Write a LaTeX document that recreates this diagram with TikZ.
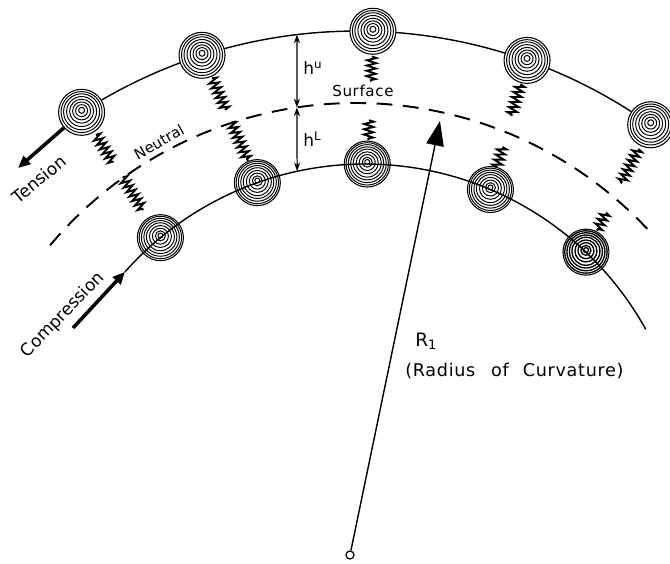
\documentclass[tikz,border=0pt]{standalone}
\usepackage{fontspec}
\setmainfont{DejaVu Sans}
\newfontfamily\widefont[LetterSpace=4]{DejaVu Sans}
\usetikzlibrary{positioning,arrows.meta,calc,decorations.pathmorphing}
\tikzset{
  grain/.style={circle,draw,line width=0.6pt,minimum size=0.92cm,inner sep=0pt},
  ring/.style={line width=0.55pt},
  surf/.style={line width=0.8pt},
  neutral/.style={line width=1.1pt,dash pattern=on 9pt off 6pt},
  spring/.style={line width=1.1pt,decorate,decoration={zigzag,segment length=3pt,amplitude=2.6pt}},
  dim/.style={{Stealth[length=5pt,width=3.5pt]}-{Stealth[length=5pt,width=3.5pt]},line width=0.7pt},
  push/.style={-{Triangle[length=7pt,width=6pt]},line width=2pt},
  curv/.style={-{Triangle[length=14pt,width=10pt]},line width=0.8pt},
  pivot/.style={circle,draw,line width=0.7pt,minimum size=0.16cm,inner sep=0pt},
  lbl/.style={inner sep=0pt,font=\fontsize{9.7}{12}\selectfont},
}
\begin{document}
\begin{tikzpicture}[x=0.02cm,y=0.02cm]
  \useasboundingbox (0,0) rectangle (670,-564);
  % centres of the three layers
  \coordinate (Ou) at (357,-538);
  \coordinate (On) at (356,-503);
  \coordinate (Ol) at (365,-485);

  % upper surface, neutral plane, lower surface
  \draw[surf] ($(Ou)+(122.9:507)$) arc[start angle=122.9,end angle=54.6,radius=507];
  \draw[neutral] ($(On)+(139.9:400)$) arc[start angle=139.9,end angle=42.4,radius=400];
  \coordinate (lstart) at ($(Ol)+(138.4:321)$);
  \draw[surf] (lstart) arc[start angle=138.4,end angle=29,radius=321];

  % particles
  \foreach \n/\a in {u1/122.9,u2/107.8,u3/88.2,u4/70.4,u5/54.6}
    \node[grain,fill=white] (\n) at ($(Ou)+(\a:507)$) {};
  \foreach \n/\a in {l1/129.6,l2/109.6,l3/89.6,l4/67.0,l5/46.5}
    \node[grain] (\n) at ($(Ol)+(\a:321)$) {};
  \foreach \n in {u1,u2,u3,u4,u5}
    \foreach \r in {3,6,9,12,15,18,20.5}
      \draw[ring] ($(\n)+(0,{0.1*(23-\r)})$) circle[radius=\r];
  \foreach \n/\w in {l1/0.55,l2/0.55,l3/0.55,l4/0.55,l5/0.75}
    \foreach \r in {2.5,5,8,11,14,16.5,19,21.2}
      \draw[ring,line width=\w pt] ($(\n)+(0,{0.1*(23-\r)})$) circle[radius=\r];

  % springs, broken at the neutral plane
  \foreach \u/\l/\a/\b/\c/\d in {u1/l1/0.18/0.40/0.52/0.78,u2/l2/0.18/0.43/0.53/0.83,
      u3/l3/0.19/0.38/0.67/0.82,u4/l4/0.185/0.43/0.67/0.83,u5/l5/0.19/0.46/0.69/0.83}{
    \draw[spring] ($(\u)!\a!(\l)$) -- ($(\u)!\b!(\l)$);
    \draw[spring] ($(\u)!\c!(\l)$) -- ($(\u)!\d!(\l)$);
  }

  % thickness above and below the neutral plane
  \coordinate (hu) at ($(Ou)+(96.8:507)$);
  \coordinate (hn) at ($(On)+(98.5:400)$);
  \coordinate (hl) at ($(Ol)+(102.2:321)$);
  \draw[dim] (hu) -- (hn);
  \draw[dim] (hn) -- (hl);
  \node[lbl,anchor=base west] (hU) at (303,-75) {h\textsuperscript{u}};
  \node[lbl,anchor=base west] (hL) at (303,-147) {h\textsuperscript{L}};

  % radius of curvature
  \node[pivot] (O) at (350,-555) {};
  \coordinate (tip) at (440,-121);
  \draw[curv] (O) -- (tip);
  \node[lbl,anchor=base west,font=\fontsize{10.5}{12}\selectfont] (R) at (415,-347) {R\textsubscript{1}};
  \node[lbl,anchor=base west,font=\widefont\fontsize{10}{12}\selectfont] (Rtxt) at (405,-377)
    {(Radius\hspace{9pt}of\hspace{8pt}Curvature)};

  % tension and compression
  \coordinate (tens) at (18,-168);
  \coordinate (comp) at (73,-328);
  \draw[push] (u1) -- (tens);
  \draw[push] (comp) -- (lstart);
  \node[lbl,rotate=39.5] (T) at (39,-179) {Tension};
  \node[lbl,rotate=46] (C) at (63,-315) {Compression};
  \node[lbl,rotate=29,font=\fontsize{8.4}{10}\selectfont] (N) at (159,-142) {Neutral};
  \node[lbl,anchor=base west,font=\widefont\fontsize{8.6}{10}\selectfont] (S) at (332,-97) {Surface};
\end{tikzpicture}
\end{document}
